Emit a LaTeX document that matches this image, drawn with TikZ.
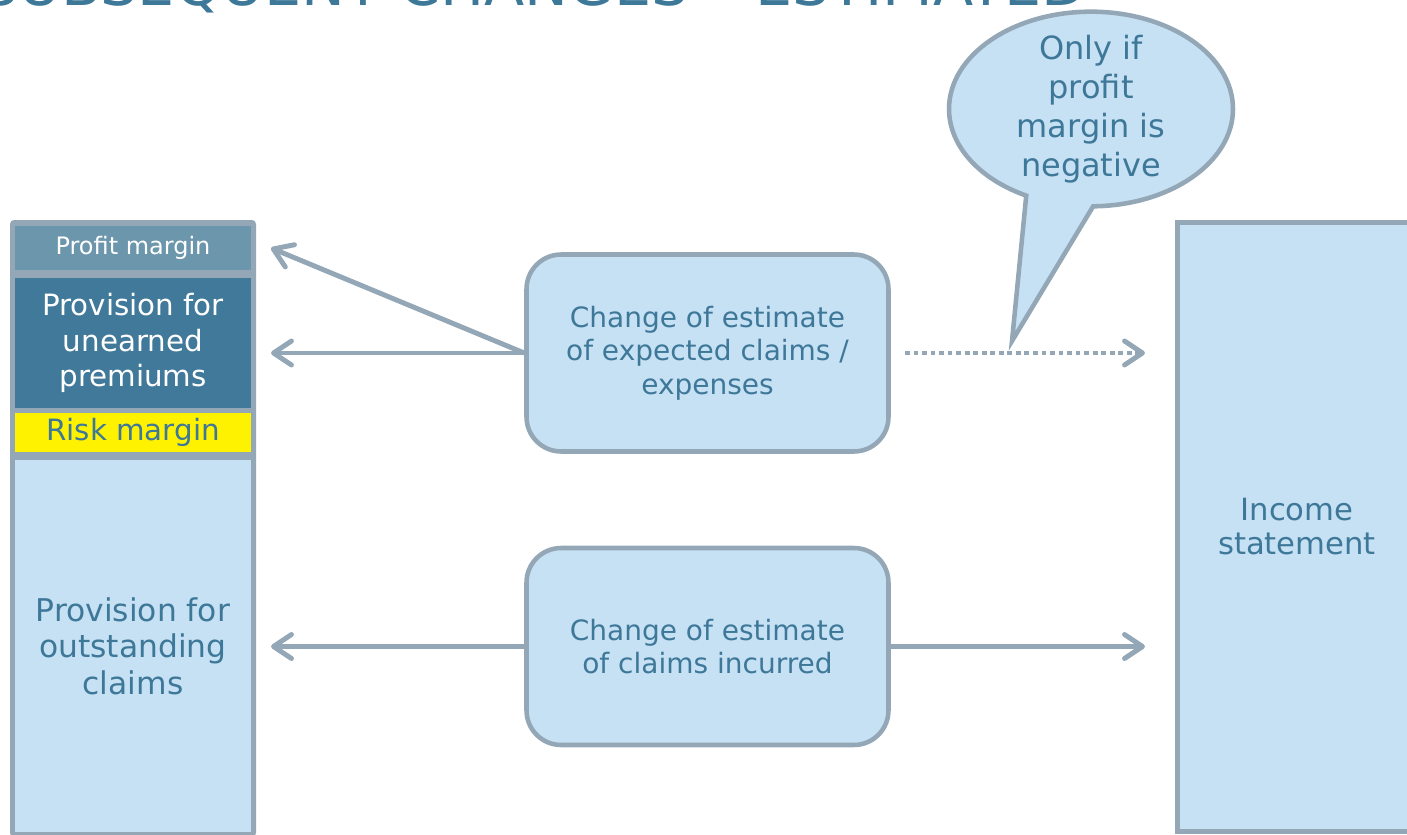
\documentclass[tikz,border=0pt]{standalone}
\usepackage{fontspec}
\setmainfont{DejaVu Sans}
\usetikzlibrary{arrows.meta,shapes.callouts}
\definecolor{txtblue}{HTML}{3E7898}
\definecolor{paleblue}{HTML}{C6E0F4}
\definecolor{edgegray}{HTML}{93A7B7}
\definecolor{pmblue}{HTML}{6C96AC}
\definecolor{uprblue}{HTML}{41799A}
\newcommand{\fs}[2]{\fontsize{#1}{#2}\selectfont}

\begin{document}
\begin{tikzpicture}[x=0.75pt,y=-0.75pt,
  layer/.style={minimum width=177pt,inner sep=0pt,align=center},
  estbox/.style={draw=edgegray,line width=3.4pt,fill=paleblue,rounded corners=26pt,
    minimum width=271.5pt,minimum height=147.75pt,align=center,text=txtblue,font=\fs{21}{25}},
  conn/.style={draw=edgegray,line width=3.7pt,-{Straight Barb[length=13.5pt,width=18pt,round]}}]
\useasboundingbox (0,0) rectangle (1407,835);
\clip (0,0) rectangle (1407,835);
\node[anchor=base east,text=txtblue,font=\fs{44}{52},inner sep=0pt] (ttl) at (1087,5) {SUBSEQUENT CHANGES – ESTIMATED};
\fill[edgegray,rounded corners=3pt] (10,220) rectangle (256,837);
\node[layer,fill=pmblue,text=white,minimum height=33pt,font=\fs{18}{21}] (pm) at (133,248) {Profit margin};
\node[layer,fill=uprblue,text=white,minimum height=97.5pt,font=\fs{22}{26.6}] (upr) at (133,343) {Provision for\\unearned\\premiums};
\node[layer,fill=yellow,text=txtblue,minimum height=29.25pt,font=\fs{22}{26}] (rm) at (133,432.5) {Risk margin};
\node[layer,fill=paleblue,text=txtblue,minimum height=279pt,font=\fs{23.5}{27.4}] (osc) at (133,646) {Provision for\\outstanding\\claims};
\node[estbox] (est1) at (707.5,353) {Change of estimate\\of expected claims /\\expenses};
\node[estbox] (est2) at (707.5,646.5) {Change of estimate\\of claims incurred};
\node[draw=edgegray,line width=3.75pt,fill=paleblue,minimum width=179.25pt,minimum height=456.75pt,
  align=center,text=txtblue,font=\fs{23}{25.5}] (inc) at (1297,526.5) {Income\\statement};
\node[ellipse callout,draw=edgegray,line width=3.4pt,fill=paleblue,minimum width=213pt,minimum height=146pt,
  inner xsep=0pt,inner ysep=-9pt,callout absolute pointer={(1012,341)},callout pointer arc=28,align=center,
  text=txtblue,font=\fs{24}{29.3}] (note) at (1091,109) {Only if\\profit\\margin is\\negative};
\coordinate (pmtip) at (271,248);
\coordinate (upptip) at (271,353);
\coordinate (osctip) at (271,646.5);
\coordinate (dotstart) at (905,353);
\coordinate (inctipa) at (1145,353);
\coordinate (inctipb) at (1145,646.5);
\draw[conn] (est1.west) -- (pmtip);
\draw[conn] (est1.west) -- (upptip);
\draw[conn,dash pattern=on 3.6pt off 2.8pt] (dotstart) -- (inctipa);
\draw[conn] (est2.west) -- (osctip);
\draw[conn] (est2.east) -- (inctipb);
\end{tikzpicture}
\end{document}
